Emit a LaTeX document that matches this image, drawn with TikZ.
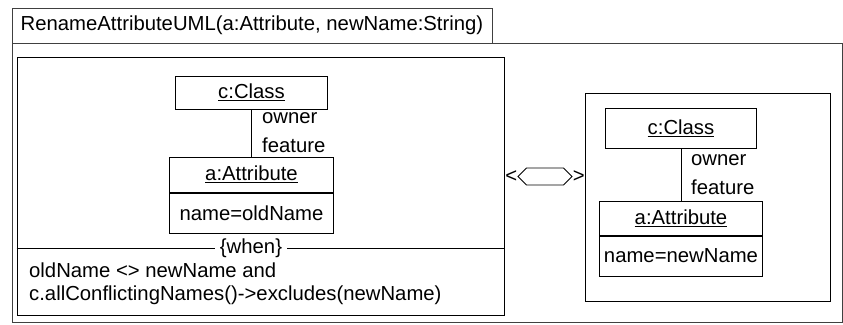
\documentclass[tikz,border=0pt]{standalone}
\usepackage{fontspec}
\setmainfont{Liberation Sans}
\usetikzlibrary{shapes.symbols}
\begin{document}
\begin{tikzpicture}[x=1pt, y=-1pt, every node/.style={font=\fontsize{20.3pt}{23pt}\selectfont},
  obj/.style={draw, line width=1pt, inner sep=0pt},
  lbl/.style={anchor=west, inner sep=0pt}]
\useasboundingbox (0,0) rectangle (843,324);
\node[obj, draw=black!75, minimum width=830pt, minimum height=279pt] (frame) at (427,182.5) {};
\node[obj, draw=black!75, minimum width=480pt, minimum height=35pt] (title) at (252,25.5) {RenameAttributeUML(a:Attribute, newName:String)};
\node[obj, minimum width=487pt, minimum height=258pt] (lhs) at (260.5,186) {};
\node[obj, minimum width=245pt, minimum height=208pt] (rhs) at (707.5,197) {};
% left side
\node[obj, minimum width=152pt, minimum height=33pt] (c1) at (251.5,92.5) {\underline{c:Class}};
\node[obj, minimum width=164pt, minimum height=35pt] (a1) at (251.5,174.5) {\underline{a:Attribute}};
\node[obj, minimum width=164pt, minimum height=40pt, anchor=north] (v1) at (a1.south) {name=oldName};
\node[lbl] (o1) at (262,118) {owner};
\node[lbl] (f1) at (262,145) {feature};
\node[inner sep=5pt] (when) at (251,248) {\{when\}};
\node[lbl, anchor=base west] (w1) at (29,277) {oldName <> newName and};
\node[lbl, anchor=base west] (w2) at (29,300) {c.allConflictingNames()->excludes(newName)};
% right side
\node[obj, minimum width=151pt, minimum height=40pt] (c2) at (681,128) {\underline{c:Class}};
\node[obj, minimum width=163pt, minimum height=34pt] (a2) at (681,218) {\underline{a:Attribute}};
\node[obj, minimum width=163pt, minimum height=40pt, anchor=north] (v2) at (a2.south) {name=newName};
\node[lbl] (o2) at (691,160) {owner};
\node[lbl] (f2) at (691,187) {feature};
% correspondence
\node[draw, line width=0.8pt, signal, signal to=west and east, minimum width=54pt, minimum height=17pt, inner sep=0pt] (hex) at (545,176.5) {};
\node[inner sep=0pt, anchor=east] (lt) at (hex.west) {<};
\node[inner sep=0pt, anchor=west] (gt) at (hex.east) {>};
\foreach \u/\v in {c1/a1,c2/a2} \draw[line width=1pt] (\u)--(\v);
\draw[line width=1pt] (lhs.west |- when) -- (when.west) (when.east) -- (lhs.east |- when);
\end{tikzpicture}
\end{document}
